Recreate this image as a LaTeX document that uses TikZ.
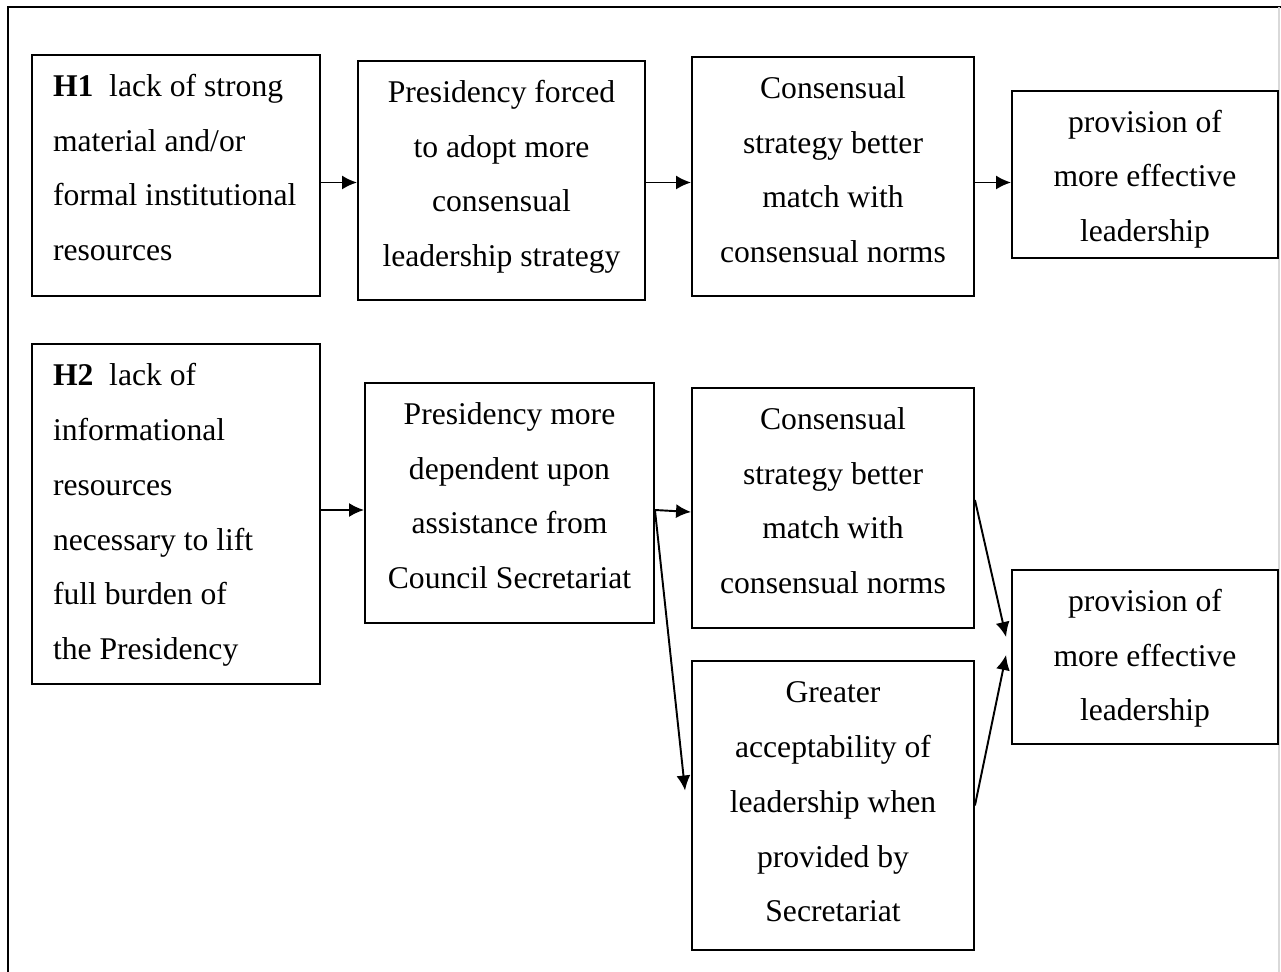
\documentclass[tikz,border=0pt]{standalone}
\usepackage{fontspec}
\setmainfont{Liberation Serif}
\usetikzlibrary{calc,arrows.meta}
\tikzset{box/.style={draw,line width=1.1pt,inner sep=0pt,
    font=\fontsize{18pt}{31.3pt}\selectfont}}
% text hangs from the top of the box, as in the original
\tikzset{cell/.style 2 args={box,
    execute at begin node={\begin{minipage}[c][#1][t]{#2}\centering\rule{0pt}{0.82cm}},
    execute at end node={\end{minipage}}}}
\tikzset{hyp/.style={box,inner xsep=0.42cm,
    execute at begin node={\begin{minipage}[c][#1][t]{4.92cm}\raggedright\rule{0pt}{0.82cm}},
    execute at end node={\end{minipage}}}}

\begin{document}
\begin{tikzpicture}[>={Latex[length=0.3cm,width=0.28cm]},x=0.02cm,y=-0.02cm,line width=1.1pt]
                \useasboundingbox (0,0) rectangle (1281,972);
                \draw (8,972) -- (8,7) -- (1281,7);
                \draw[gray!30] (1279,7) -- (1279,972);
                % first row
                \node[hyp=4.82cm] (h1) at (176,175.5) {\textbf{H1}\ \ lack of strong\\material and/or\\formal institutional\\resources};
                \node[cell={4.78cm}{5.74cm}] (forced) at (501.5,180.5) {Presidency forced\\to adopt more\\consensual\\leadership strategy};
                \node[cell={4.78cm}{5.64cm}] (match1) at (833,176.5) {Consensual\\strategy better\\match with\\consensual norms};
                \node[cell={3.34cm}{5.32cm}] (lead1) at (1145,174.5) {provision of\\more effective\\leadership};
                \draw[->] ($(h1.east |- forced.west)+(0,2)$) -- ($(forced.west)+(0,2)$);
                \draw[->] ($(forced.east)+(0,2)$) -- ($(forced.east -| match1.west)+(0,2)$);
                \draw[->] ($(match1.east)+(0,6)$) -- ($(match1.east -| lead1.west)+(0,6)$);
                % second row
                \node[hyp=6.8cm] (h2) at (176,514) {\textbf{H2}\ \ lack of\\informational\\resources\\necessary to lift\\full burden of\\the Presidency};
                \node[cell={4.8cm}{5.78cm}] (depend) at (509.5,503) {Presidency more\\dependent upon\\assistance from\\Council Secretariat};
                \node[cell={4.8cm}{5.64cm}] (match2) at (833,508) {Consensual\\strategy better\\match with\\consensual norms};
                \node[cell={5.78cm}{5.64cm}] (accept) at (833,805.5) {Greater\\acceptability of\\leadership when\\provided by\\Secretariat};
                \node[cell={3.48cm}{5.32cm}] (lead2) at (1145,657) {provision of\\more effective\\leadership};
                \coordinate (split) at ($(depend.east)+(0,7)$);
                \draw[->] (h2.east |- split) -- (depend.west |- split);
                \draw[->] (split) -- ($(match2.west)+(0,4)$);
                \draw[->] (split) -- ($(accept.west)+(-6,-15)$);
                \draw[->] ($(match2.east)+(0,-8)$) -- ($(lead2.west)+(-5,-20)$);
                \draw[->] (accept.east) -- ($(lead2.west)+(-5,-2)$);
            \end{tikzpicture}
\end{document}
